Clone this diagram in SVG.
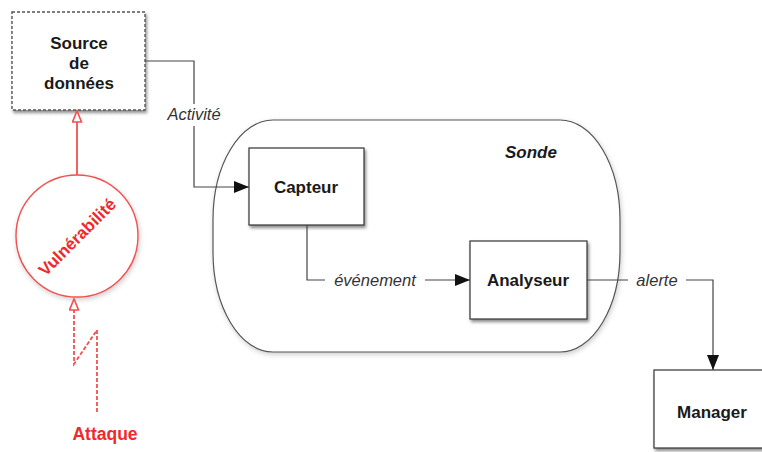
<svg xmlns="http://www.w3.org/2000/svg" width="762" height="452" viewBox="0 0 762 452">
<style>
  .box { fill: #ffffff; stroke: #333333; stroke-width: 1.2; filter: url(#shadow); }
  .src { fill: #ffffff; stroke: #555555; stroke-width: 1.4; stroke-dasharray: 3 2; filter: url(#shadow); }
  .capsule { fill: #ffffff; stroke: #555555; stroke-width: 1.2; filter: url(#shadow2); }
  .title { font-family: "Liberation Sans", Arial, sans-serif; font-weight: bold; font-size: 17px; fill: #1a1a1a; text-anchor: middle; }
  .lbl { font-family: "Liberation Sans", Arial, sans-serif; font-style: italic; font-size: 16.5px; fill: #333333; text-anchor: middle; }
  .conn { fill: none; stroke: #444444; stroke-width: 1.2; }
  .red { fill: none; stroke: #f25050; stroke-width: 1.8; }
  .reddash { fill: none; stroke: #f25050; stroke-width: 1.8; stroke-dasharray: 4 2; }
  .redtext { font-family: "Liberation Sans", Arial, sans-serif; font-weight: bold; fill: #f02a2a; text-anchor: middle; }
  .bg { fill: #ffffff; }
</style>
<defs>
  <filter id="shadow" x="-10%" y="-10%" width="130%" height="130%">
    <feDropShadow dx="1.5" dy="2.5" stdDeviation="1.8" flood-color="#000" flood-opacity="0.45"/>
  </filter>
  <filter id="shadow2" x="-10%" y="-10%" width="130%" height="130%">
    <feDropShadow dx="1" dy="2" stdDeviation="2.5" flood-color="#000" flood-opacity="0.2"/>
  </filter>
  <marker id="arrow" markerUnits="userSpaceOnUse" markerWidth="16" markerHeight="12" refX="15" refY="6" orient="auto">
    <path d="M0,0 L15,6 L0,12 Z" fill="#111111"/>
  </marker>
  <marker id="hollow" markerUnits="userSpaceOnUse" markerWidth="14" markerHeight="14" refX="12" refY="5.5" orient="auto">
    <path d="M1,1 L12,5.5 L1,10 Z" fill="#ffffff" stroke="#f25050" stroke-width="1.6"/>
  </marker>
</defs>

<g id="sonde">
  <path class="capsule" d="M273,120 L560,120 A60,100 0 0 1 620,220 L620,252 A60,100 0 0 1 560,352 L273,352 A60,100 0 0 1 213,252 L213,220 A60,100 0 0 1 273,120 Z"/>
  <text x="531" y="158" class="title" font-style="italic">Sonde</text>
</g>

<g id="source">
  <rect class="src" x="12" y="12" width="133" height="98"/>
  <text x="79" y="49" class="title">Source</text>
  <text x="79" y="69" class="title">de</text>
  <text x="79" y="89" class="title">données</text>
</g>

<g id="capteur">
  <rect class="box" x="249" y="148" width="115" height="77"/>
  <text x="306" y="193" class="title">Capteur</text>
</g>

<g id="analyseur">
  <rect class="box" x="470" y="241" width="117" height="78"/>
  <text x="528" y="286" class="title">Analyseur</text>
</g>

<g id="manager">
  <rect class="box" x="654" y="370" width="120" height="78"/>
  <text x="712" y="418" class="title">Manager</text>
</g>

<g id="vulnerabilite">
  <circle cx="77" cy="236" r="61" fill="#ffffff" stroke="#f25050" stroke-width="1.4" filter="url(#shadow2)"/>
  <text class="redtext" font-size="17" transform="translate(77,237) rotate(-45)" x="0" y="6">Vulnérabilité</text>
</g>

<g id="attaque">
  <text class="redtext" font-size="17.5" x="105" y="440">Attaque</text>
</g>

<g id="connectors">
  <path class="conn" d="M145,61 L194,61 L194,187 L249,187" marker-end="url(#arrow)"/>
  <rect class="bg" x="163" y="104" width="62" height="22"/>
  <text class="lbl" x="194" y="120">Activité</text>

  <path class="conn" d="M307,225 L307,280 L470,280" marker-end="url(#arrow)"/>
  <rect class="bg" x="325" y="270" width="100" height="20"/>
  <text class="lbl" x="375" y="286">événement</text>

  <path class="conn" d="M587,280 L713,280 L713,370" marker-end="url(#arrow)"/>
  <rect class="bg" x="628" y="270" width="58" height="20"/>
  <text class="lbl" x="657" y="286">alerte</text>

  <path class="red" d="M77,175 L77,111" marker-end="url(#hollow)"/>
  <path class="reddash" d="M97,412 L97,330 L74,364 L74,299" marker-end="url(#hollow)"/>
</g>
</svg>
